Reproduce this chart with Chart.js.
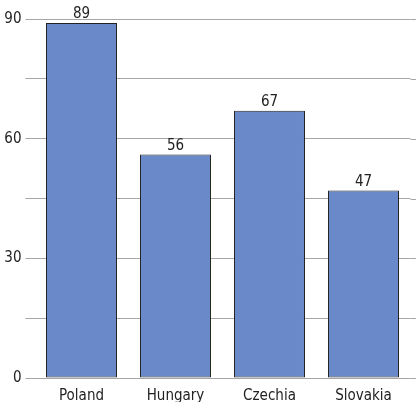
<!DOCTYPE html>
<html>
<head>
<meta charset="utf-8">
<script src="https://cdn.jsdelivr.net/npm/chart.js@4/dist/chart.umd.min.js"></script>
<style>
  html, body { margin: 0; padding: 0; background: #fff; }
  #wrap { width: 416px; height: 402px; }
</style>
</head>
<body>
<div id="wrap"><canvas id="barChart"></canvas></div>
<script>
var countries = ['Poland', 'Hungary', 'Czechia', 'Slovakia'];
var values = [89, 56, 67, 47];
var yTicks = [0, 30, 60, 90];

var FONT = "'Liberation Sans Narrow', 'DejaVu Sans Condensed', 'Arial Narrow', sans-serif";

// gridlines in the reference run on to the right edge of the picture
var extendGrid = {
    id: 'extendGrid',
    beforeDatasetsDraw: function (chart) {
        var ctx = chart.ctx, y = chart.scales.y, area = chart.chartArea;
        ctx.save();
        ctx.strokeStyle = '#a6a6a6';
        ctx.lineWidth = 1;
        y.ticks.forEach(function (t) {
            var py = Math.round(y.getPixelForValue(t.value)) + 0.5;
            ctx.beginPath();
            ctx.moveTo(area.right, py);
            ctx.lineTo(chart.width, py);
            ctx.stroke();
        });
        ctx.restore();
    }
};

var valueLabels = {
    id: 'valueLabels',
    afterDatasetsDraw: function (chart) {
        var ctx = chart.ctx;
        var meta = chart.getDatasetMeta(0);
        ctx.save();
        ctx.font = '15px ' + FONT;
        ctx.fillStyle = '#222';
        ctx.textAlign = 'center';
        ctx.textBaseline = 'bottom';
        meta.data.forEach(function (bar, i) {
            ctx.fillText(values[i], bar.x, bar.y - 1);
        });
        ctx.restore();
    }
};

var chart = new Chart(document.getElementById('barChart').getContext('2d'), {
    type: 'bar',
    data: {
        labels: countries,
        datasets: [{
            data: values,
            backgroundColor: '#6a89c8',
            borderColor: '#222',
            borderWidth: 1,
            borderSkipped: false,
            categoryPercentage: 1,
            barPercentage: 0.755
        }]
    },
    options: {
        responsive: true,
        maintainAspectRatio: false,
        animation: false,
        layout: { padding: { top: 19, right: 5.5, left: 0, bottom: 0 } },
        plugins: {
            legend: { display: false },
            tooltip: { enabled: false }
        },
        scales: {
            x: {
                grid: { display: false, drawTicks: false },
                border: { display: false },
                ticks: {
                    color: '#222',
                    font: { family: FONT, size: 15 },
                    padding: 9
                },
                afterFit: function (scale) { scale.height = 24; }
            },
            y: {
                min: 0,
                max: 90,
                afterBuildTicks: function (scale) {
                    scale.ticks = [0, 15, 30, 45, 60, 75, 90].map(function (v) { return { value: v }; });
                },
                grid: {
                    color: '#a6a6a6',
                    lineWidth: 1,
                    tickLength: 9,
                    drawTicks: true
                },
                border: { display: false },
                ticks: {
                    color: '#222',
                    font: { family: FONT, size: 15 },
                    padding: 4,
                    callback: function (v) { return yTicks.indexOf(v) >= 0 ? v : ''; }
                },
                afterFit: function (scale) { scale.width = 34.5; }
            }
        }
    },
    plugins: [extendGrid, valueLabels]
});
</script>
</body>
</html>
